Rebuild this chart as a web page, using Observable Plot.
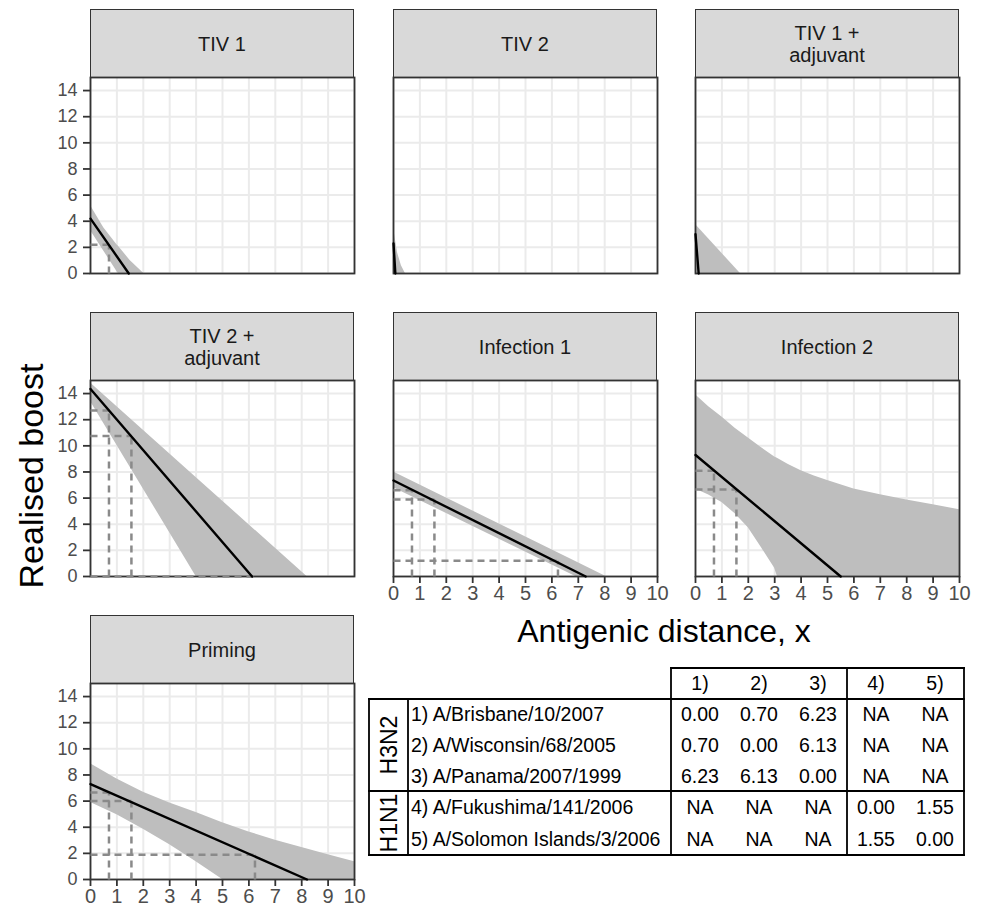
<!DOCTYPE html>
<html><head><meta charset="utf-8">
<script src="https://cdn.jsdelivr.net/npm/d3@7"></script>
<script src="https://cdn.jsdelivr.net/npm/@observablehq/plot@0.6"></script>
<style>
body{margin:0;background:#fff;}
#root{position:relative;width:982px;height:907px;background:#fff;font-family:"Liberation Sans",Arial,sans-serif;overflow:hidden;}
.strip{position:absolute;box-sizing:border-box;border:1.8px solid #333;background:#d9d9d9;display:flex;align-items:center;justify-content:center;text-align:center;font-size:20px;line-height:22px;color:#1a1a1a;white-space:pre-line;}
.panel{position:absolute;}
</style></head><body><div id="root"></div>
<script>
// ---------- data ----------
const panelNames = ["TIV 1", "TIV 2", "TIV 1 +\nadjuvant", "TIV 2 +\nadjuvant", "Infection 1", "Infection 2", "Priming"];
const xTicks = [0, 1, 2, 3, 4, 5, 6, 7, 8, 9, 10];
const yTicks = [0, 2, 4, 6, 8, 10, 12, 14];
const distances = [0.7, 1.55, 6.23];
const xTitle = "Antigenic distance, x";
const yTitle = "Realised boost";

// mean lines: [x, boost]
const tiv1Mean = [[0, 4.2], [1.45, 0]];
const tiv2Mean = [[0, 2.3], [0.07, 0]];
const tiv1AdjMean = [[0, 3.0], [0.12, 0]];
const tiv2AdjMean = [[0, 14.35], [6.12, 0]];
const inf1Mean = [[0, 7.35], [7.28, 0]];
const inf2Mean = [[0, 9.3], [5.5, 0]];
const primMean = [[0, 7.3], [8.2, 0]];

// credible bands: [x, lower, upper]
const tiv1Band = [[0, 3.3, 5.2], [0.5, 1.73, 3.5], [1.0, 0.16, 2.2], [1.05, 0, 2.1], [1.5, 0, 1.0], [2.02, 0, 0]];
const tiv2Band = [[0, 0, 3.5], [0.15, 0, 1.6], [0.3, 0, 0.6], [0.45, 0, 0]];
const tiv1AdjBand = [[0, 0, 3.75], [1.7, 0, 0]];
const tiv2AdjBand = [[0, 13.4, 14.8], [4.0, 0, 7.58], [8.2, 0, 0]];
const inf1Band = [[0, 6.8, 8.0], [6.9, 0, 1.14], [8.05, 0, 0]];
const inf2Band = [[0, 6.7, 13.9], [0.5, 6.24, 13.0], [1, 5.67, 12.2], [1.5, 4.8, 11.35], [2, 3.74, 10.6], [2.5, 2.2, 9.85], [3, 0.64, 9.15], [3.1, 0, 9.05], [3.5, 0, 8.6], [4, 0, 8.1], [4.5, 0, 7.7], [5, 0, 7.35], [6, 0, 6.7], [7, 0, 6.26], [8, 0, 5.85], [9, 0, 5.5], [10, 0, 5.1]];
const primBand = [[0, 5.9, 8.85], [1, 4.95, 7.7], [2, 3.85, 6.67], [3, 2.65, 5.85], [4, 1.35, 5.13], [5, 0, 4.35], [6, 0, 3.64], [7, 0, 3.0], [8, 0, 2.44], [9, 0, 1.9], [10, 0, 1.36]];

// boost read at each antigenic distance (null = not drawn)
const tiv1Dash = [2.2, null, null];
const tiv2Dash = [null, null, null];
const tiv1AdjDash = [null, null, null];
const tiv2AdjDash = [12.7, 10.75, 0];
const inf1Dash = [6.6, 5.9, 1.2];
const inf2Dash = [8.1, 6.65, null];
const primDash = [6.65, 6.0, 1.9];

// table
const colHeaders = ["1)", "2)", "3)", "4)", "5)"];
const strainNames = ["1) A/Brisbane/10/2007", "2) A/Wisconsin/68/2005", "3) A/Panama/2007/1999", "4) A/Fukushima/141/2006", "5) A/Solomon Islands/3/2006"];
const distRows = [
  ["0.00", "0.70", "6.23", "NA", "NA"],
  ["0.70", "0.00", "6.13", "NA", "NA"],
  ["6.23", "6.13", "0.00", "NA", "NA"],
  ["NA", "NA", "NA", "0.00", "1.55"],
  ["NA", "NA", "NA", "1.55", "0.00"]
];
const subtypes = ["H3N2", "H1N1"];

// ---------- layout ----------
const means = [tiv1Mean, tiv2Mean, tiv1AdjMean, tiv2AdjMean, inf1Mean, inf2Mean, primMean];
const bands = [tiv1Band, tiv2Band, tiv1AdjBand, tiv2AdjBand, inf1Band, inf2Band, primBand];
const dashes = [tiv1Dash, tiv2Dash, tiv1AdjDash, tiv2AdjDash, inf1Dash, inf2Dash, primDash];
const panelCol = [0, 1, 2, 0, 1, 2, 0];
const panelRow = [0, 0, 0, 1, 1, 1, 2];
const showXAxis = [false, false, false, false, true, true, true];

const colLeft = [90, 393, 695];
const stripTop = [9, 312, 615];
const PW = 264, PH = 196, SH = 68;
const ml = 50, mr = 10, mt = 4, mb = 40;
const hasAxisMarks = typeof Plot.axisX === "function";

const rootEl = document.getElementById("root");
const root = d3.select(rootEl);
const overlay = root.append("svg").attr("width", 982).attr("height", 907)
  .style("position", "absolute").style("left", "0px").style("top", "0px")
  .attr("font-family", "Liberation Sans, Arial, sans-serif");

overlay.append("text").attr("x", 664).attr("y", 642).attr("text-anchor", "middle")
  .attr("font-size", 32).attr("fill", "#000").text(xTitle);
overlay.append("text").attr("transform", "translate(43,476) rotate(-90)").attr("text-anchor", "middle")
  .attr("font-size", 34).attr("fill", "#000").text(yTitle);

panelNames.forEach((name, i) => {
  const c = panelCol[i], r = panelRow[i];
  const strip = document.createElement("div");
  strip.className = "strip";
  strip.style.left = colLeft[c] + "px";
  strip.style.top = stripTop[r] + "px";
  strip.style.width = PW + "px";
  strip.style.height = (SH + 1) + "px";
  strip.textContent = name;
  rootEl.appendChild(strip);

  const segs = [];
  dashes[i].forEach((b, k) => {
    if (b === null) return;
    segs.push({x1: distances[k], y1: 0, x2: distances[k], y2: b});
    segs.push({x1: 0, y1: b, x2: distances[k], y2: b});
  });

  const showX = showXAxis[i], showY = c === 0;
  const marks = [
    Plot.ruleX(xTicks, {stroke: "#ebebeb", strokeWidth: 2}),
    Plot.ruleY(yTicks, {stroke: "#ebebeb", strokeWidth: 2}),
    Plot.areaY(bands[i], {x: d => d[0], y1: d => d[1], y2: d => d[2], fill: "#bebebe", curve: "linear", clip: true}),
    Plot.frame({stroke: "#333", strokeWidth: 1.8}),
    Plot.link(segs, {x1: "x1", y1: "y1", x2: "x2", y2: "y2", stroke: "#8a8a8a", strokeWidth: 2.5, strokeDasharray: "7,5"}),
    Plot.line(means[i], {x: d => d[0], y: d => d[1], stroke: "#000", strokeWidth: 2.4})
  ];
  if (hasAxisMarks) {
    if (showX) marks.push(Plot.axisX(xTicks, {tickSize: 7, tickPadding: 2, fontSize: 20, stroke: "#333", fill: "#4d4d4d", strokeWidth: 1.8, tickFormat: d => String(d), label: null}));
    if (showY) marks.push(Plot.axisY(yTicks, {tickSize: 7, tickPadding: 6, fontSize: 18, stroke: "#333", fill: "#4d4d4d", strokeWidth: 1.8, tickFormat: d => String(d), label: null}));
  }

  const svg = Plot.plot({
    width: ml + PW + mr,
    height: mt + PH + mb,
    marginLeft: ml, marginRight: mr, marginTop: mt, marginBottom: mb,
    style: {color: "#4d4d4d", background: "transparent", fontFamily: "Liberation Sans, Arial, sans-serif", overflow: "visible"},
    x: {domain: [0, 10], axis: (!hasAxisMarks && showX) ? "bottom" : null, ticks: xTicks, tickSize: 7, tickPadding: 2, tickFormat: d => String(d), label: null},
    y: {domain: [0, 15], axis: (!hasAxisMarks && showY) ? "left" : null, ticks: yTicks, tickSize: 7, tickPadding: 6, tickFormat: d => String(d), label: null},
    marks
  });
  svg.classList.add("panel");
  svg.style.position = "absolute";
  svg.style.left = (colLeft[c] - ml) + "px";
  svg.style.top = (stripTop[r] + SH - mt) + "px";
  rootEl.appendChild(svg);

  // enforce tick label sizes (y labels sit left of the plot area)
  const sb = svg.getBoundingClientRect();
  svg.querySelectorAll("text").forEach(t => {
    const tb = t.getBoundingClientRect();
    const isY = tb.right <= sb.left + ml + 1;
    t.style.fontSize = isY ? "18px" : "20px";
    t.style.fill = "#4d4d4d";
  });
});

// ---------- table ----------
const T = {x0: 369, xg: 408, xn: 671, xs: 847, x1: 964, y0: 668, yh: 699, ys: 791, y1: 855};
const colCx = [700, 759, 818, 876, 935];
const rowCy = [714.3, 745, 775.7, 807, 839];
const tg = overlay.append("g").attr("font-size", 19.5).attr("fill", "#000");
const lines = [
  [T.x0, T.yh, T.x1, T.yh], [T.x0, T.y1, T.x1, T.y1], [T.x0, T.ys, T.x1, T.ys],
  [T.xn, T.y0, T.x1, T.y0],
  [T.x0, T.yh, T.x0, T.y1], [T.xg, T.yh, T.xg, T.y1], [T.xn, T.y0, T.xn, T.y1],
  [T.xs, T.y0, T.xs, T.y1], [T.x1, T.y0, T.x1, T.y1]
];
tg.selectAll("line").data(lines).join("line")
  .attr("x1", d => d[0]).attr("y1", d => d[1]).attr("x2", d => d[2]).attr("y2", d => d[3])
  .attr("stroke", "#000").attr("stroke-width", 1.8).attr("stroke-linecap", "square");
tg.selectAll("text.h").data(colHeaders).join("text").attr("class", "h")
  .attr("x", (d, j) => colCx[j]).attr("y", (T.y0 + T.yh) / 2).attr("dy", "0.35em")
  .attr("text-anchor", "middle").text(d => d);
tg.selectAll("text.n").data(strainNames).join("text").attr("class", "n")
  .attr("x", T.xg + 3).attr("y", (d, j) => rowCy[j]).attr("dy", "0.35em").text(d => d);
distRows.forEach((row, j) => {
  row.forEach((v, k) => {
    tg.append("text").attr("x", colCx[k]).attr("y", rowCy[j]).attr("dy", "0.35em")
      .attr("text-anchor", "middle").text(v);
  });
});
const subCy = [(T.yh + T.ys) / 2, (T.ys + T.y1) / 2];
subtypes.forEach((s, j) => {
  tg.append("text").attr("transform", `translate(${(T.x0 + T.xg) / 2},${subCy[j]}) rotate(-90)`)
    .attr("dy", "0.36em").attr("text-anchor", "middle").attr("font-size", 23).text(s);
});
</script></body></html>
